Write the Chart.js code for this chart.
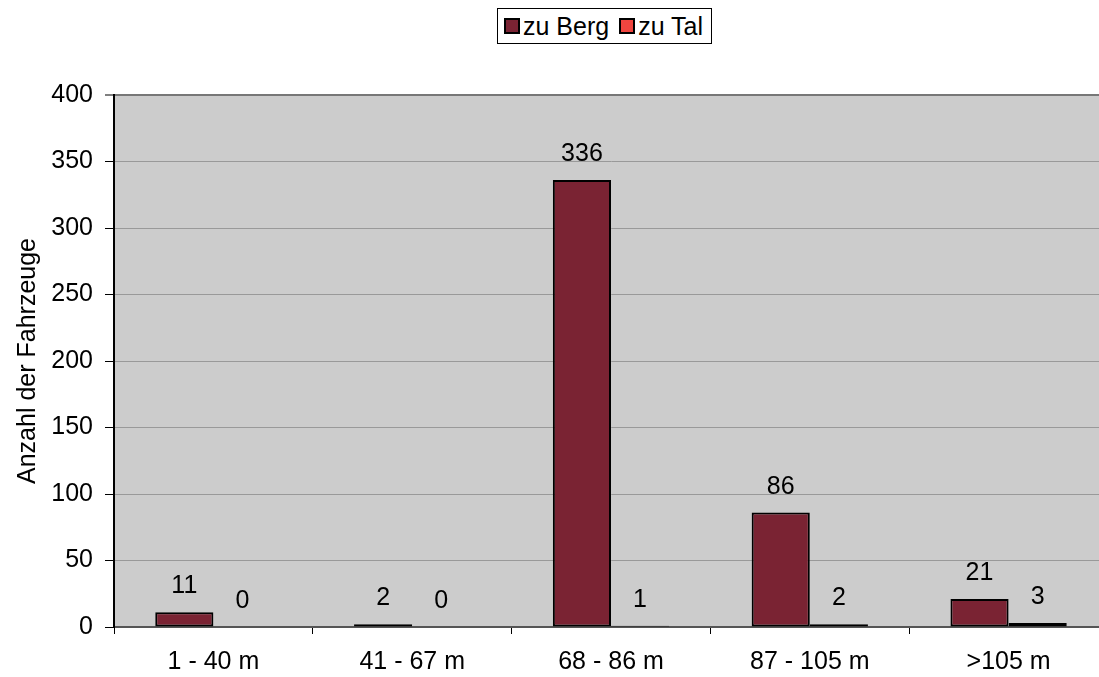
<!DOCTYPE html>
<html>
<head>
<meta charset="utf-8">
<script src="https://cdn.jsdelivr.net/npm/chart.js@4.4.1/dist/chart.umd.min.js"></script>
<style>
  html, body { margin: 0; padding: 0; background: #fff; overflow: hidden; }
  #wrap { position: relative; width: 1099px; height: 677px; overflow: hidden; }
  #cv { position: absolute; left: 0; top: 0; }
  #legend {
    position: absolute; left: 497px; top: 8px; height: 36px; width: 215px;
    border: 1px solid #000; box-sizing: border-box; background: #fff;
    font-family: "Liberation Sans", Arial, sans-serif; font-size: 25px;
    display: flex; align-items: center; padding-left: 6px; white-space: nowrap;
  }
  .sw { display: inline-block; width: 12px; height: 12px; border: 2px solid #000; margin-right: 3px; }
  .item { display: inline-flex; align-items: center; margin-right: 10px; }
</style>
</head>
<body>
<div id="wrap">
  <canvas id="cv" width="1108" height="677"></canvas>
  <div id="legend"></div>
</div>
<script>
// Längenklassen der Fahrzeuge und gezählte Fahrzeuge je Fahrtrichtung
const categories = ['1 - 40 m', '41 - 67 m', '68 - 86 m', '87 - 105 m', '>105 m'];
const seriesNames = ['zu Berg', 'zu Tal'];
const zuBerg = [11, 2, 336, 86, 21];
const zuTal = [0, 0, 1, 2, 3];
const yTicks = [0, 50, 100, 150, 200, 250, 300, 350, 400];

const colors = ['#7A2333', '#F0453F'];
const FONT = '"Liberation Sans", Arial, sans-serif';
const FS = 25;

// Legende
const legendEl = document.getElementById('legend');
seriesNames.forEach((name, i) => {
  const it = document.createElement('span');
  it.className = 'item';
  const sw = document.createElement('span');
  sw.className = 'sw';
  sw.style.background = colors[i];
  it.appendChild(sw);
  it.appendChild(document.createTextNode(name));
  legendEl.appendChild(it);
});

// Hintergrund der Zeichenfläche
const plotBg = {
  id: 'plotBg',
  beforeDraw(chart) {
    const { ctx, chartArea: a } = chart;
    ctx.save();
    ctx.fillStyle = '#CCCCCC';
    ctx.fillRect(a.left, a.top, a.right - a.left, a.bottom - a.top);
    ctx.restore();
  }
};

// Werte über den Balken
const valueLabels = {
  id: 'valueLabels',
  afterDatasetsDraw(chart) {
    const { ctx } = chart;
    ctx.save();
    ctx.font = FS + 'px ' + FONT;
    ctx.fillStyle = '#000';
    ctx.textAlign = 'center';
    ctx.textBaseline = 'middle';
    chart.data.datasets.forEach((ds, di) => {
      const meta = chart.getDatasetMeta(di);
      meta.data.forEach((bar, i) => {
        ctx.fillText(String(ds.data[i]), bar.x, bar.y - 26);
      });
    });
    ctx.restore();
  }
};

new Chart(document.getElementById('cv'), {
  type: 'bar',
  data: {
    labels: categories,
    datasets: [
      { label: seriesNames[0], data: zuBerg, backgroundColor: colors[0], borderColor: '#000', borderWidth: 2, borderSkipped: false },
      { label: seriesNames[1], data: zuTal, backgroundColor: colors[1], borderColor: '#000', borderWidth: 2, borderSkipped: false }
    ]
  },
  options: {
    responsive: false,
    animation: false,
    layout: { padding: { top: 95, right: 0, left: 0, bottom: 0 } },
    datasets: { bar: { barPercentage: 1.0, categoryPercentage: 0.585 } },
    plugins: { legend: { display: false }, tooltip: { enabled: false } },
    scales: {
      x: {
        offset: true,
        grid: { offset: true, drawOnChartArea: false, drawTicks: true, tickLength: 7, tickColor: '#000', tickWidth: 1 },
        border: { color: '#555', width: 2 },
        ticks: { color: '#000', font: { family: FONT, size: FS }, padding: 13, maxRotation: 0 },
        afterFit(s) { s.height = 50; }
      },
      y: {
        min: 0, max: 400,
        afterBuildTicks(s) { s.ticks = yTicks.map(v => ({ value: v })); },
        grid: {
          color: ctx => ctx.tick && ctx.tick.value === 400 ? '#777' : '#999',
          lineWidth: ctx => ctx.tick && ctx.tick.value === 400 ? 2 : 1,
          drawTicks: true, tickLength: 9, tickColor: '#000', tickWidth: 1
        },
        border: { color: '#000', width: 2 },
        ticks: { color: '#000', font: { family: FONT, size: FS }, padding: 12 },
        title: { display: true, text: 'Anzahl der Fahrzeuge', color: '#000', font: { family: FONT, size: FS }, padding: { top: 13, bottom: 0 } },
        afterFit(s) { s.width = 114; }
      }
    }
  },
  plugins: [plotBg, valueLabels]
});
</script>
</body>
</html>
